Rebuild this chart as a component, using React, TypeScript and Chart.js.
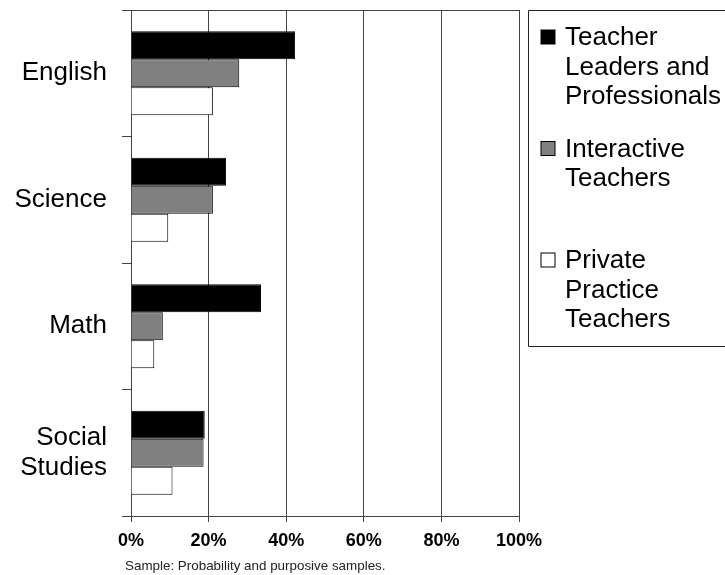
import React, { useEffect, useRef } from 'react';
import { Chart, registerables } from 'chart.js';

Chart.register(...registerables);

// Subjects (one per category row) and shares of teachers per group, in percent
const subjects: (string | string[])[] = ['English', 'Science', 'Math', ['Social', 'Studies']];
const teacherLeaders = [42.3, 24.5, 33.5, 19.0];
const interactiveTeachers = [27.9, 21.1, 8.2, 18.7];
const privatePractice = [21.1, 9.6, 6.0, 10.7];

const seriesLabels = [
  ['Teacher', 'Leaders and', 'Professionals'],
  ['Interactive', 'Teachers'],
  ['Private', 'Practice', 'Teachers'],
];
const seriesColors = ['#000000', '#808080', '#ffffff'];

const xMin = 0;
const xMax = 100;
const xStep = 20;
const footnote = 'Sample: Probability and purposive samples.';

const FONT = '"Liberation Sans", Arial, sans-serif';
const LINE = '#444444';

// Frame line along the top of the plot, the boxed legend on the right and the footnote
const decorations = {
  id: 'decorations',
  afterDraw(chart: Chart) {
    const { ctx, chartArea } = chart;
    ctx.save();

    ctx.strokeStyle = LINE;
    ctx.lineWidth = 1;
    ctx.beginPath();
    ctx.moveTo(chartArea.left, chartArea.top + 0.5);
    ctx.lineTo(chartArea.right + 0.5, chartArea.top + 0.5);
    ctx.stroke();

    // legend box
    const boxLeft = chartArea.right + 9.5;
    const boxTop = chartArea.top + 0.5;
    const boxBottom = 346.5;
    ctx.strokeStyle = '#222';
    ctx.beginPath();
    ctx.moveTo(chart.width + 5, boxTop);
    ctx.lineTo(boxLeft, boxTop);
    ctx.lineTo(boxLeft, boxBottom);
    ctx.lineTo(chart.width + 5, boxBottom);
    ctx.stroke();

    ctx.font = `26px ${FONT}`;
    ctx.textBaseline = 'middle';
    ctx.textAlign = 'left';
    const slot = 111.5;
    const lineH = 29.5;
    seriesLabels.forEach((lines, i) => {
      const firstY = chartArea.top + 27 + i * slot;
      ctx.fillStyle = seriesColors[i];
      ctx.fillRect(boxLeft + 12.5, firstY - 7, 14, 14);
      ctx.strokeStyle = '#000';
      ctx.strokeRect(boxLeft + 12.5, firstY - 7, 14, 14);
      ctx.fillStyle = '#000';
      lines.forEach((t, j) => {
        ctx.fillText(t, boxLeft + 36.5, firstY + 1 + j * lineH);
      });
    });

    ctx.font = `13.4px ${FONT}`;
    ctx.fillStyle = '#222';
    ctx.textBaseline = 'middle';
    ctx.fillText(footnote, 125, 566);

    ctx.restore();
  },
};

export default function App() {
  const canvasRef = useRef<HTMLCanvasElement | null>(null);

  useEffect(() => {
    const canvas = canvasRef.current;
    if (!canvas) return;
    const chart = new Chart(canvas, {
      type: 'bar',
      data: {
        labels: subjects as any,
        datasets: [
          { label: seriesLabels[0].join(' '), data: teacherLeaders },
          { label: seriesLabels[1].join(' '), data: interactiveTeachers },
          { label: seriesLabels[2].join(' '), data: privatePractice },
        ].map((d, i) => ({
          ...d,
          backgroundColor: seriesColors[i],
          borderColor: '#000',
          borderWidth: 1,
          categoryPercentage: 0.664,
          barPercentage: 1.0,
        })),
      },
      options: {
        indexAxis: 'y',
        responsive: false,
        animation: false,
        layout: { padding: { top: 10, right: 206, bottom: 0, left: 0 } },
        plugins: {
          legend: { display: false },
          tooltip: { enabled: false },
        },
        scales: {
          x: {
            type: 'linear',
            min: xMin,
            max: xMax,
            ticks: {
              stepSize: xStep,
              callback: (v: any) => `${v}%`,
              font: { family: FONT, size: 18, weight: 'bold' },
              color: '#000',
              padding: 8,
              maxRotation: 0,
            },
            grid: { color: LINE, lineWidth: 1, tickLength: 6, drawTicks: true },
            border: { display: true, color: LINE, width: 1 },
            afterFit: (s: any) => {
              s.height = 59;
              s.paddingLeft = 0;
              s.paddingRight = 0;
            },
          },
          y: {
            type: 'category',
            offset: true,
            ticks: {
              font: { family: FONT, size: 26, lineHeight: 1.15 },
              color: '#000',
              padding: 15,
            },
            grid: { display: true, drawOnChartArea: false, offset: true, tickLength: 9, color: LINE },
            border: { display: true, color: LINE, width: 1 },
            afterFit: (s: any) => {
              s.width = 131;
              s.paddingTop = 0;
              s.paddingBottom = 0;
            },
          },
        },
      },
      plugins: [decorations],
    });
    return () => chart.destroy();
  }, []);

  return (
    <div style={{ position: 'absolute', left: 0, top: 0, width: 725, height: 575, background: '#fff' }}>
      <canvas ref={canvasRef} width={725} height={575} style={{ display: 'block', width: 725, height: 575 }} />
    </div>
  );
}
